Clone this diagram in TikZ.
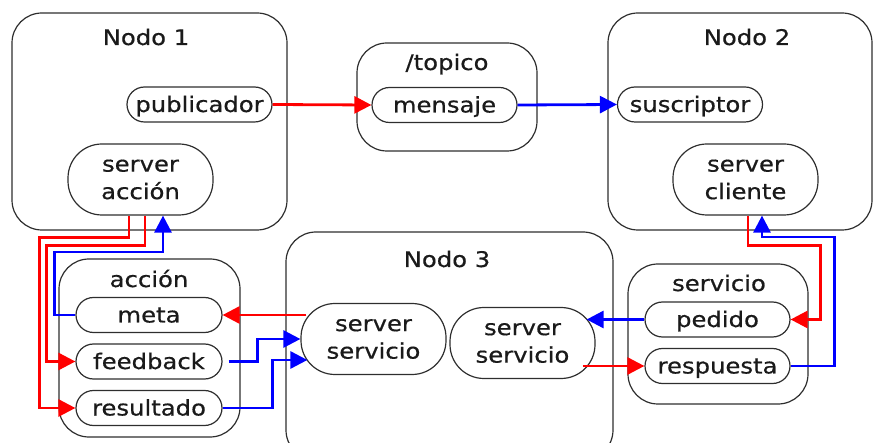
\documentclass[tikz,border=0pt]{standalone}
\usepackage{fontspec}
\setmainfont{DejaVu Sans}[FakeStretch=1.13, FakeBold=0.6]
\usetikzlibrary{arrows.meta}
\definecolor{ink}{HTML}{1A1A1A}
\definecolor{edge}{HTML}{2E2E2E}
\definecolor{rojo}{HTML}{FF0000}
\definecolor{azul}{HTML}{0000FF}
\tikzset{
  container/.style={draw=edge, line width=1.2pt, rounded corners=30pt, inner sep=0pt},
  title/.style={anchor=base, text=ink, inner sep=0pt},
  pill/.style={draw=edge, line width=1.2pt, rounded corners=17.5pt, minimum width=145pt,
    minimum height=35pt, inner sep=0pt, text=ink, text height=15pt, text depth=0pt},
  bigpill/.style={draw=edge, line width=1.2pt, rounded corners=34pt, minimum width=145pt,
    minimum height=71pt, inner sep=0pt, text=ink, align=center},
  link/.style={line width=2.8pt, -{Triangle[length=17pt,width=17pt]}},
}
\begin{document}
\begin{tikzpicture}[x=1pt, y=-1pt, font=\fontsize{21.5}{27.5}\selectfont]
\useasboundingbox (0,0) rectangle (875,443);

% containers
\node[container, minimum width=275pt, minimum height=217pt] (nodo1) at (149.5,121.5) {};
\node[title] (t1) at (146,45) {Nodo 1};
\node[container, minimum width=264pt, minimum height=217pt] (nodo2) at (740,121.5) {};
\node[title] (t2) at (747,45) {Nodo 2};
\node[container, minimum width=180pt, minimum height=108pt] (topico) at (447,97) {};
\node[title] (tt) at (447,70) {/topico};
\node[container, minimum width=181pt, minimum height=178pt] (accion) at (149.5,348) {};
\node[title] (ta) at (149,287) {acción};
\node[container, minimum width=327pt, minimum height=228pt] (nodo3) at (449.5,346) {};
\node[title] (t3) at (447,267) {Nodo 3};
\node[container, minimum width=180pt, minimum height=140pt] (servicio) at (718,334) {};
\node[title] (ts) at (719,291) {servicio};

% endpoints
\node[pill] (pub) at (199.5,104.5) {publicador};
\node[pill] (men) at (444.5,105) {mensaje};
\node[pill] (sus) at (690,104.5) {suscriptor};
\node[bigpill] (sa) at (140.5,179.5) {server\\acción};
\node[bigpill] (sc) at (745.5,179.5) {server\\cliente};
\node[pill, minimum width=146pt] (meta) at (149,315) {meta};
\node[pill, minimum width=146pt] (fb) at (149,361.5) {feedback};
\node[pill, minimum width=146pt] (res) at (149,408) {resultado};
\node[bigpill] (ss1) at (373.5,339) {server\\servicio};
\node[bigpill] (ss2) at (522.5,343) {server\\servicio};
\node[pill] (ped) at (717.5,319.5) {pedido};
\node[pill] (resp) at (717.5,366) {respuesta};

% topic
\draw[link, rojo] (pub.east) -- (men.west);
\draw[link, azul] (men.east) -- (sus.west);

% action
\draw[link, rojo] ([xshift=-11.5pt]sa.south) -- ++(0,22) -| ([xshift=-36pt]res.west) -- (res.west);
\draw[link, rojo] ([xshift=4.5pt]sa.south) -- ++(0,30) -| ([xshift=-29pt]fb.west) -- (fb.west);
\draw[link, azul] (meta.west) -- ++(-21,0) -- ++(0,-63) -| ([xshift=22.5pt]sa.south);
\draw[link, rojo] ([xshift=6pt]ss1.west |- meta.east) -- (meta.east);
\draw[link, azul] ([xshift=6pt]fb.east) -- ++(29,0) |- (ss1.west);
\draw[link, azul] (res.east) -- ++(50,0) |- ([shift={(7pt,-21pt)}]ss1.west);

% service
\draw[link, azul] (ped.west) -- ([shift={(-9pt,23.5pt)}]ss2.east);
\draw[link, rojo] ([shift={(-13pt,-23pt)}]ss2.east) -- (resp.west);
\draw[link, rojo] ([xshift=2.5pt]sc.south) -- ++(0,30) -| ([xshift=30pt]ped.east) -- (ped.east);
\draw[link, azul] (resp.east) -- ++(44,0) -- ++(0,-129) -| ([xshift=16.5pt]sc.south);
\end{tikzpicture}
\end{document}
